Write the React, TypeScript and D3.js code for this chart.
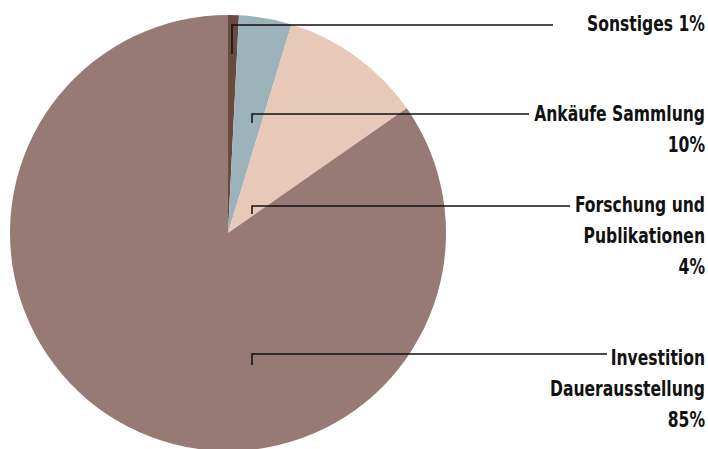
import React from "react";
import * as d3 from "d3";

// slice order clockwise from 12 o'clock
const categories = ["Sonstiges", "Forschung und Publikationen", "Ankäufe Sammlung", "Investition Dauerausstellung"];
const shares = [0.8, 3.9, 10.6, 84.7];
const colors = ["#6a4a40", "#9db3bb", "#e8c8b8", "#977a73"];

// labels as printed, top to bottom
const labelLines = [
  ["Sonstiges 1%"],
  ["Ankäufe Sammlung", "10%"],
  ["Forschung und", "Publikationen", "4%"],
  ["Investition", "Dauerausstellung", "85%"],
];

const W = 708;
const H = 449;
const cx = 228;
const cy = 233;
const R = 218;
const textRight = 705;

// leader line layout: tick x, top y, tick length, line end x, first baseline
const leaders = [
  { x: 232, y: 25, tick: 29, end: 553, base: 31 },
  { x: 252, y: 114, tick: 9, end: 529, base: 121 },
  { x: 252, y: 206, tick: 8, end: 570, base: 212 },
  { x: 252, y: 354, tick: 11, end: 607, base: 365 },
];

const font = "'DejaVu Sans Condensed', 'Liberation Sans Narrow', sans-serif";

export default function App() {
  const pie = d3.pie<number>().sort(null).value((d) => d);
  const arcs = pie(shares);
  const arc = d3.arc<d3.PieArcDatum<number>>().innerRadius(0).outerRadius(R);

  return (
    <svg
      width={W}
      height={H}
      style={{ position: "absolute", left: 0, top: 0, background: "#fff" }}
    >
      <g transform={`translate(${cx},${cy})`}>
        {arcs.map((a, i) => (
          <path key={categories[i]} d={arc(a) || ""} fill={colors[i]} />
        ))}
      </g>
      {leaders.map((l, i) => (
        <g key={i}>
          <path
            d={`M${l.x},${l.y + l.tick}V${l.y}H${l.end}`}
            fill="none"
            stroke="#111"
            strokeWidth={1.5}
          />
          <g transform={`translate(${textRight},0) scale(0.825,1)`}>
            {labelLines[i].map((t, j) => (
              <text
                key={j}
                x={0}
                y={l.base + j * 31}
                textAnchor="end"
                fontFamily={font}
                fontWeight="bold"
                fontSize={21}
                fill="#111"
              >
                {t}
              </text>
            ))}
          </g>
        </g>
      ))}
    </svg>
  );
}
